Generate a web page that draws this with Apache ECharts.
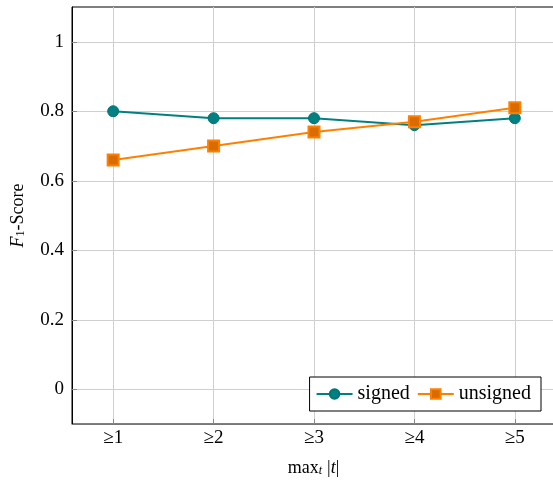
<!DOCTYPE html>
<html lang="en">
	<head>
		<meta charset="UTF-8" />
		<title>F1-Score chart</title>
		<script src="https://cdn.jsdelivr.net/npm/echarts@6/dist/echarts.min.js"></script>
		<style>
			body { margin: 0; background: #fff; }
		</style>
	</head>
	<body>
		<div id="myChart" style="width: 553px; height: 481px"></div>

		<script>
			const thresholds = [1, 2, 3, 4, 5];
			const signed = [0.8, 0.78, 0.78, 0.76, 0.78];
			const unsigned = [0.66, 0.7, 0.74, 0.77, 0.81];
			const yTicks = [0, 0.2, 0.4, 0.6, 0.8, 1];

			const serif = "Liberation Serif";
			const myChart = echarts.init(document.getElementById("myChart"));

			const option = {
				animation: false,
				textStyle: { fontFamily: serif },
				grid: {
					left: 72,
					right: -2,
					top: 7,
					bottom: 57,
					outerBoundsMode: "none",
					containLabel: false,
					show: true,
					borderColor: "#000",
					borderWidth: 1,
				},
				legend: {
					right: 12,
					bottom: 70,
					orient: "horizontal",
					borderColor: "#000",
					borderWidth: 1,
					backgroundColor: "#fff",
					padding: [7, 10, 7, 6],
					itemGap: 7,
					itemWidth: 36,
					itemHeight: 12,
					textStyle: { fontFamily: serif, fontSize: 20, color: "#000" },
					data: ["signed", "unsigned"],
				},
				xAxis: {
					type: "value",
					min: 0.59,
					max: 5.4,
					name: "{a|max}{s|t} {a||}{i|t}{a||}",
					nameLocation: "middle",
					nameGap: 35,
					nameTextStyle: {
						rich: {
							a: { fontFamily: serif, fontSize: 18, color: "#000" },
							i: { fontFamily: serif, fontSize: 18, fontStyle: "italic", color: "#000" },
							s: { fontFamily: serif, fontSize: 12, fontStyle: "italic", color: "#000", verticalAlign: "bottom", padding: [6, 2, 0, 0] },
						},
					},
					axisLine: { onZero: false, lineStyle: { color: "#777", width: 1 } },
					axisTick: {
						customValues: thresholds,
						inside: true,
						length: 5,
						lineStyle: { color: "#888" },
					},
					axisLabel: {
						customValues: thresholds,
						formatter: (v) => "\u2265" + v,
						fontFamily: serif,
						fontSize: 19,
						color: "#000",
						margin: 5,
					},
					splitLine: { show: true, lineStyle: { color: "#cfcfcf", width: 1 } },
				},
				yAxis: {
					type: "value",
					min: -0.1,
					max: 1.1,
					name: "{i|F}{s|1}{a|-Score}",
					nameLocation: "middle",
					nameRotate: 90,
					nameGap: 45,
					nameTextStyle: {
						rich: {
							a: { fontFamily: serif, fontSize: 18, color: "#000" },
							i: { fontFamily: serif, fontSize: 18, fontStyle: "italic", color: "#000" },
							s: { fontFamily: serif, fontSize: 12, color: "#000", verticalAlign: "bottom", padding: [6, 0, 0, 0] },
						},
					},
					axisLine: { show: true, onZero: false, lineStyle: { color: "#000", width: 1 } },
					axisTick: {
						customValues: yTicks,
						inside: true,
						length: 5,
						lineStyle: { color: "#888" },
					},
					axisLabel: {
						customValues: yTicks,
						formatter: (v) => String(Math.round(v * 10) / 10),
						fontFamily: serif,
						fontSize: 19,
						color: "#000",
						margin: 8,
					},
					splitLine: { show: true, lineStyle: { color: "#cfcfcf", width: 1 } },
				},
				series: [
					{
						name: "signed",
						type: "line",
						data: thresholds.map((t, i) => [t, signed[i]]),
						symbol: "circle",
						symbolSize: 11,
						lineStyle: { color: "#008080", width: 2 },
						itemStyle: { color: "#008080", borderColor: "#007575", borderWidth: 1 },
					},
					{
						name: "unsigned",
						type: "line",
						data: thresholds.map((t, i) => [t, unsigned[i]]),
						symbol: "rect",
						symbolSize: 11,
						lineStyle: { color: "#ff8000", width: 2 },
						itemStyle: { color: "#d96c00", borderColor: "#ff8000", borderWidth: 2 },
					},
				],
			};

			myChart.setOption(option);
		</script>
	</body>
</html>
